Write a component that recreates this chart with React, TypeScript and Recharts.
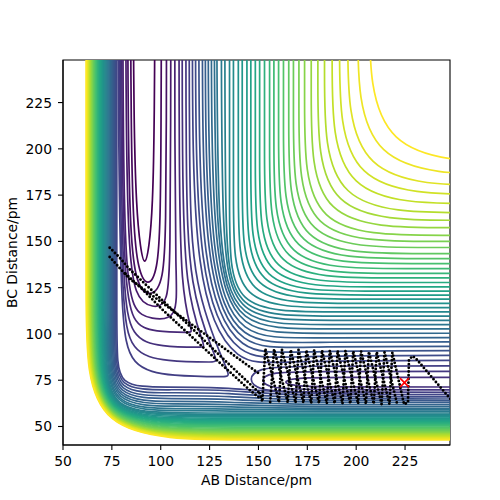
import React from 'react';
import { ComposedChart, Line, Scatter, XAxis, YAxis, ReferenceArea } from 'recharts';

type Pt = [number, number];

const xTicks = [50, 75, 100, 125, 150, 175, 200, 225];
const yTicks = [50, 75, 100, 125, 150, 175, 200, 225];
const LEVEL_COUNT = 45;

// Reactant-valley closed contours (levels 0..8), spline control points
const reactantLevels = [0, 1, 2, 3, 4, 5, 6, 7, 8];
const reactantContours: Pt[][] = [
  [[85.9, 300], [86.2, 215], [87.5, 168], [89.6, 146], [91.8, 136], [94.0, 146], [95.9, 168], [96.8, 215], [97.1, 300]],
  [[84.5, 300], [84.8, 210], [85.9, 160], [88.3, 134], [93.5, 125], [98.4, 134], [99.8, 160], [100.2, 210], [100.4, 300]],
  [[83.0, 300], [83.3, 210], [84.4, 155], [87.2, 126], [95, 119.5], [101.6, 128], [102.6, 160], [102.9, 210], [103.0, 300]],
  [[82.0, 300], [82.3, 210], [83.4, 150], [86.5, 119], [96, 114], [104, 115.5], [104.8, 145], [105.1, 210], [105.2, 300]],
  [[80.5, 300], [80.8, 200], [82.0, 140], [85.3, 112], [95, 108], [109, 107.5], [107.6, 132], [107.2, 200], [107.2, 300]],
  [[79.9, 300], [80.2, 200], [81.4, 132], [85.0, 105], [97, 101], [116, 100.8], [116, 100.8], [110.3, 124], [109.4, 190], [109.3, 300]],
  [[79.3, 300], [79.6, 200], [80.8, 124], [84.6, 97.5], [100, 93], [122.5, 92.8], [122.5, 92.8], [112.3, 124], [111.0, 190], [110.9, 300]],
  [[78.7, 300], [79.0, 200], [80.3, 116], [84.2, 89.5], [103, 85], [129, 84.8], [129, 84.8], [114.2, 124], [112.9, 190], [112.8, 300]],
  [[78.1, 300], [78.4, 200], [79.8, 108], [84.0, 81.5], [106, 77], [135.5, 76.9], [135.5, 76.9], [116.0, 125], [114.6, 190], [114.5, 300]],
];

// Product-valley closed contours (levels 6..8)
const productLevels = [6, 7, 8];
const productContours: Pt[][] = [
  [[420, 71.3], [260, 71.3], [185, 71.3], [168, 71.8], [162, 74.0], [168, 76.2], [185, 76.6], [260, 76.6], [420, 76.6]],
  [[420, 69.7], [260, 69.7], [172, 69.8], [156, 70.8], [150.5, 75.0], [156, 79.2], [172, 79.7], [260, 79.8], [420, 79.8]],
  [[420, 68.3], [260, 68.3], [166, 68.5], [150, 69.6], [144.5, 75.5], [150, 81.5], [166, 82.7], [260, 82.9], [420, 82.9]],
];

// Inner L-shaped contours, levels 9..44
const innerFirstLevel = 9;
const innerTopX = [116.2, 117.8, 119.5, 121.3, 122.8, 124.3, 125.9, 127.4, 128.7, 131.0, 132.8, 135.2, 137.2, 139.7, 141.7, 144.1, 146.1, 148.4, 150.6, 153.1, 155.7, 157.9, 160.3, 162.8, 165.5, 167.9, 170.7, 173.6, 177.0, 180.4, 183.8, 187.7, 191.5, 195.7, 200.8, 206.8];
const innerRightY = [85.8, 88.5, 91.0, 93.4, 95.8, 98.1, 100.4, 102.7, 105.0, 107.3, 109.6, 111.9, 114.2, 116.5, 118.8, 121.0, 123.1, 125.4, 127.8, 130.3, 132.7, 135.3, 138.0, 140.7, 143.4, 146.7, 150.0, 153.3, 157.4, 161.4, 165.5, 170.4, 175.4, 180.2, 186.2, 192.8];
const innerElbowY = [121, 124, 127, 130, 133.5, 137, 140.5, 144, 148, 152, 156, 159.9, 164.2, 168.5, 172.8, 176, 179.1, 182.4, 185.8, 189.3, 192.7, 196.3, 200, 203.7, 207.4, 211.7, 216, 220.3, 225.4, 231.4, 237.5, 244.4, 251.4, 258.2, 266.2, 274.8];
const innerCornerX = [140, 141, 141.5, 141.5, 141, 140.5, 140, 139, 138, 137, 136, 135.2, 137.2, 139.7, 141.7, 144.1, 146.1, 148.4, 150.6, 153.1, 155.7, 157.9, 160.3, 162.8, 165.5, 167.9, 170.7, 173.6, 177.0, 180.4, 183.8, 187.7, 191.5, 195.7, 200.8, 206.8];
const innerCornerY = [82, 85, 88, 91, 94, 97, 100, 102.7, 105, 107.3, 109.6, 111.9, 114.2, 116.5, 118.8, 121.0, 123.1, 125.4, 127.8, 130.3, 132.7, 135.3, 138.0, 140.7, 143.4, 146.7, 150.0, 153.3, 157.4, 161.4, 165.5, 170.4, 175.4, 180.2, 186.2, 192.8];
const innerElbowX = [160, 163, 166, 169, 171, 173, 175, 177, 179, 181, 182, 183.2, 187.2, 191.7, 195.7, 199.1, 202.1, 205.4, 208.6, 212.1, 215.7, 218.9, 222.3, 225.8, 229.5, 232.9, 236.7, 240.6, 245.0, 250.4, 255.8, 261.7, 267.5, 273.7, 280.8, 288.8];

// Repulsive-wall contours (left wall + bottom wall), levels 9..44
const wallFirstLevel = 9;
const wallTopX = [77.53, 76.94, 76.36, 75.79, 75.23, 74.67, 74.12, 73.58, 73.05, 72.53, 72.01, 71.51, 71.01, 70.52, 70.04, 69.56, 69.10, 68.64, 68.19, 67.75, 67.32, 66.90, 66.48, 66.07, 65.67, 65.28, 64.90, 64.53, 64.16, 63.80, 63.45, 63.11, 62.78, 62.45, 62.14, 61.83];
const wallRightY = [67.0, 65.8, 64.7, 63.6, 62.6, 61.6, 60.7, 59.8, 58.9, 58.1, 57.3, 56.6, 55.9, 55.2, 54.5, 53.9, 53.3, 52.7, 52.1, 51.5, 50.9, 50.3, 49.7, 49.1, 48.5, 47.9, 47.3, 46.7, 46.2, 45.7, 45.2, 44.7, 44.2, 43.7, 43.2, 42.7];
const wallRiseV = [22, 23.5, 25, 26.5, 28, 29.5, 31, 32.5, 34, 35.5, 37, 38.5, 40, 41.5, 43, 44.5, 46, 47.5, 49, 50.5, 52, 53.5, 55, 56.5, 58, 59.5, 61, 62.5, 64, 65.5, 66, 67, 68, 68.5, 69, 70];
const wallRunH = [25, 26.5, 28, 29.5, 31, 32.5, 34, 35.5, 37, 38.5, 40, 41.5, 43, 44.5, 46, 47.5, 49, 50.5, 52, 53.5, 55, 56.5, 58, 59.5, 61, 62.5, 64, 65.5, 67, 68.5, 70, 72, 74, 76, 78, 80];
const wallNearSaddleFloorY = [71.3, 69.8, 68.2, 66.6, 65.1, 63.6, 62.3, 61.0, 59.7, 58.6];
const wallNearSaddleMidY = [71.3, 70.0, 68.3, 66.6, 64.9, 63.3, 62.0, 60.7, 59.4, 58.3];
const wallNearSaddleEndY = [67.3, 66.1, 65.0, 63.8, 62.8, 61.7, 60.7, 59.8, 58.9, 58.1];

// Trajectory (dotted), vertices
const trajStreamA: Pt[] = [[73.9, 146.6], [79, 141.2], [84, 135], [100, 119], [116, 103], [132, 86.5], [150.6, 68]];
const trajStreamB: Pt[] = [[73.9, 141.6], [79, 135.6], [84, 129.8], [100, 117.4], [116, 105], [132, 92.6], [145.4, 82.3], [151, 78]];
const trajStreamC: Pt[] = [[82, 132.5], [91, 123.7], [101, 113], [115, 99.3], [130, 84.6], [145.4, 69.8], [151, 65]];
const trajProduct: Pt[] = [
  [150.6, 68], [152, 63.5], [153.5, 92], [160.5, 63], [162, 91.5], [169, 62.8], [170.5, 91.3], [177, 62.6],
  [178.5, 91.2], [185, 62.5], [186.5, 91], [193, 62.4], [194.5, 90.8], [201, 62.3], [202.5, 90.6], [209, 62.2],
  [210.5, 90.3], [217, 62.1], [218.5, 90], [224.5, 62], [226.5, 63], [227, 86], [228.8, 88], [230.5, 86.8], [248.5, 64.5],
];
const trajProductBack: Pt[] = [
  [156, 63.2], [158, 91.8], [165, 62.9], [166.5, 91.4], [173, 62.7], [174.5, 91.2], [181, 62.5], [182.5, 91.1],
  [189, 62.4], [190.5, 90.9], [197, 62.3], [198.5, 90.7], [205, 62.2], [206.5, 90.4], [213, 62.1], [214.5, 90.1], [221, 62],
];
const redCross = [{ x: 224.7, y: 73.7 }];

const viridisStops = ['#440154', '#482475', '#414487', '#355f8d', '#2a788e', '#21918c', '#22a884', '#44bf70', '#7ad151', '#bddf26', '#fde725'];
function hexToRgb(h: string) {
  return [parseInt(h.slice(1, 3), 16), parseInt(h.slice(3, 5), 16), parseInt(h.slice(5, 7), 16)];
}
function levelColor(level: number) {
  const t = Math.min(1, Math.max(0, level / (LEVEL_COUNT - 1))) * 10;
  const i = Math.min(9, Math.floor(t));
  const f = t - i;
  const a = hexToRgb(viridisStops[i]);
  const b = hexToRgb(viridisStops[i + 1]);
  const c = a.map((v, k) => Math.round(v + (b[k] - v) * f));
  return `rgb(${c[0]},${c[1]},${c[2]})`;
}

const toData = (pts: Pt[]) => pts.map(([x, y]) => ({ x, y }));

function innerControl(i: number): Pt[] {
  const x0 = innerTopX[i];
  const yR = innerRightY[i];
  const ey = innerElbowY[i];
  const ex = innerElbowX[i];
  const cx = innerCornerX[i];
  const cy = innerCornerY[i];
  return [[x0, 420], [x0, (420 + ey) / 2], [x0, ey], [cx, cy], [ex, yR], [(420 + ex) / 2, yR], [420, yR]];
}

function wallControl(i: number): Pt[] {
  const x0 = wallTopX[i];
  const yR = wallRightY[i];
  const fy = i < wallNearSaddleFloorY.length ? wallNearSaddleFloorY[i] : yR;
  const rv = wallRiseV[i];
  const rh = wallRunH[i];
  const pts: Pt[] = [[x0, 420], [x0, (420 + fy + rv) / 2], [x0, fy + rv], [x0, fy], [x0 + rh, fy]];
  if (i < wallNearSaddleMidY.length) {
    pts.push([135, wallNearSaddleMidY[i]], [165, wallNearSaddleEndY[i]]);
  }
  const lastX = pts[pts.length - 1][0];
  pts.push([(420 + lastX) / 2, yR], [420, yR]);
  return pts;
}

const contourWidth = 1.7;
const font = { fill: '#000', fontSize: 13.9, fontFamily: 'DejaVu Sans' };

export default function App() {
  const lines: React.ReactNode[] = [];
  reactantContours.forEach((pts, i) => {
    lines.push(
      <Line key={`r${i}`} data={toData(pts)} dataKey="y" type="basis" stroke={levelColor(reactantLevels[i])}
        strokeWidth={contourWidth} dot={false} activeDot={false} isAnimationActive={false} legendType="none" />
    );
  });
  productContours.forEach((pts, i) => {
    lines.push(
      <Line key={`p${i}`} data={toData(pts)} dataKey="y" type="basis" stroke={levelColor(productLevels[i])}
        strokeWidth={contourWidth} dot={false} activeDot={false} isAnimationActive={false} legendType="none" />
    );
  });
  innerTopX.forEach((_, i) => {
    lines.push(
      <Line key={`a${i}`} data={toData(innerControl(i))} dataKey="y" type="basis" stroke={levelColor(innerFirstLevel + i)}
        strokeWidth={contourWidth} dot={false} activeDot={false} isAnimationActive={false} legendType="none" />
    );
  });
  wallTopX.forEach((_, i) => {
    lines.push(
      <Line key={`w${i}`} data={toData(wallControl(i))} dataKey="y" type="basis" stroke={levelColor(wallFirstLevel + i)}
        strokeWidth={contourWidth} dot={false} activeDot={false} isAnimationActive={false} legendType="none" />
    );
  });
  const trajs = [trajStreamA, trajStreamB, trajStreamC, trajProduct, trajProductBack];
  trajs.forEach((pts, i) => {
    lines.push(
      <Line key={`t${i}`} data={toData(pts)} dataKey="y" type="linear" stroke="#000" strokeWidth={2.9}
        strokeDasharray="0 3.7" strokeLinecap="round" dot={false} activeDot={false} isAnimationActive={false} legendType="none" />
    );
  });

  return (
    <div style={{ position: 'absolute', left: 0, top: 0, width: 500, height: 500, background: '#fff' }}>
      <ComposedChart width={500} height={500} margin={{ top: 60, right: 50, bottom: 0, left: 0 }}>
        <XAxis type="number" dataKey="x" domain={[50, 248]} allowDataOverflow ticks={xTicks} interval={0}
          height={55} tickSize={5} tickMargin={6} tick={font}
          axisLine={{ stroke: '#000', strokeWidth: 1.1 }} tickLine={{ stroke: '#000', strokeWidth: 1.1 }}
          label={{ value: 'AB Distance/pm', position: 'insideBottom', offset: 15, ...font }} />
        <YAxis type="number" dataKey="y" domain={[40, 248]} allowDataOverflow ticks={yTicks} interval={0}
          width={63} tickSize={5} tickMargin={6} tick={font}
          axisLine={{ stroke: '#000', strokeWidth: 1.1 }} tickLine={{ stroke: '#000', strokeWidth: 1.1 }}
          label={{ value: 'BC Distance/pm', angle: -90, position: 'insideLeft', offset: 12, style: { textAnchor: 'middle' }, ...font }} />
        {lines}
        <Scatter data={redCross} dataKey="y" isAnimationActive={false} legendType="none"
          shape={(p: any) => (
            <path d={`M${p.cx - 4.5},${p.cy - 4.5}L${p.cx + 4.5},${p.cy + 4.5}M${p.cx - 4.5},${p.cy + 4.5}L${p.cx + 4.5},${p.cy - 4.5}`}
              stroke="#ff0000" strokeWidth={1.6} fill="none" />
          )} />
        <ReferenceArea x1={50} x2={248} y1={40} y2={248} fill="none" fillOpacity={0} stroke="#000" strokeWidth={1.1} ifOverflow="visible" />
      </ComposedChart>
    </div>
  );
}
